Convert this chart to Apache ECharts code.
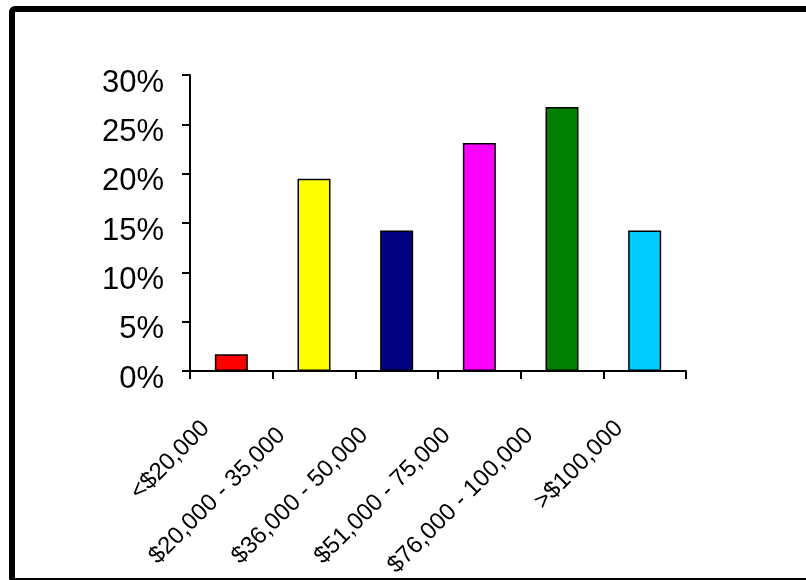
<!DOCTYPE html>
<html>
<head>
<meta charset="utf-8">
<script src="https://cdn.jsdelivr.net/npm/echarts@6/dist/echarts.min.js"></script>
<style>
html,body{margin:0;padding:0;background:#fff;}
#chart{width:806px;height:580px;}
</style>
</head>
<body>
<div id="chart"></div>
<script>
var categories = ['<$20,000', '$20,000 - 35,000', '$36,000 - 50,000', '$51,000 - 75,000', '$76,000 - 100,000', '>$100,000'];
var values = [1.7, 19.5, 14.25, 23.1, 26.75, 14.25];
var barColors = ['#FF0000', '#FFFF00', '#000080', '#FF00FF', '#008000', '#00CCFF'];
var yTicks = [0, 5, 10, 15, 20, 25, 30];

var chart = echarts.init(document.getElementById('chart'), null, {renderer: 'canvas'});
var font = 'Liberation Sans, Arial, sans-serif';
chart.setOption({
  animation: false,
  backgroundColor: '#fff',
  graphic: [{
    type: 'rect',
    z: -1,
    shape: {x: 12, y: 9, width: 810, height: 572, r: 3},
    style: {fill: 'none', stroke: '#000', lineWidth: 6}
  }],
  grid: {left: 190, right: 120, top: 75, bottom: 207, containLabel: false},
  xAxis: {
    type: 'category',
    data: categories,
    boundaryGap: true,
    axisLine: {lineStyle: {color: '#000', width: 2}},
    axisTick: {show: true, length: 8, inside: false, alignWithLabel: false, lineStyle: {color: '#000', width: 2}},
    axisLabel: {
      interval: 0,
      rotate: 45,
      margin: 28,
      color: '#000',
      fontFamily: font,
      fontSize: 24,
      formatter: function (v) { return (v.length > 10 ? '{l|' : '{s|') + v + '}'; },
      rich: {
        s: {fontFamily: font, fontSize: 24, color: '#000', padding: [0, 36, 0, 0]},
        l: {fontFamily: font, fontSize: 24, color: '#000', padding: [0, 46, 0, 0]}
      }
    },
    splitLine: {show: false}
  },
  yAxis: {
    type: 'value',
    min: yTicks[0],
    max: yTicks[yTicks.length - 1],
    interval: 5,
    axisLine: {show: true, lineStyle: {color: '#000', width: 2}},
    axisTick: {show: true, length: 8, lineStyle: {color: '#000', width: 2}},
    axisLabel: {
      margin: 26,
      color: '#000',
      fontFamily: font,
      fontSize: 31,
      formatter: function (v) { return '{a|' + v + '%}'; },
      rich: {
        a: {fontFamily: font, fontSize: 31, color: '#000', padding: [16, 0, 0, 0]}
      }
    },
    splitLine: {show: false}
  },
  series: [{
    type: 'bar',
    barWidth: 33,
    data: values.map(function (v, i) {
      return {value: v, itemStyle: {color: barColors[i]}};
    }),
    itemStyle: {borderColor: '#000', borderWidth: 1.5}
  }]
});
</script>
</body>
</html>
